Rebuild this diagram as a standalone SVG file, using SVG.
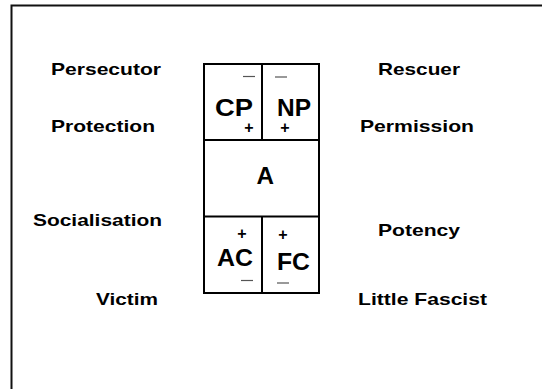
<svg xmlns="http://www.w3.org/2000/svg" width="542" height="389" viewBox="0 0 542 389">
<style>
.lbl{font-family:"Liberation Sans",Arial,sans-serif;font-weight:bold;font-size:17px;fill:#000}
.big{font-family:"Liberation Sans",Arial,sans-serif;font-weight:bold;font-size:23px;fill:#000}
.pl{font-family:"Liberation Sans",Arial,sans-serif;font-weight:bold;font-size:16px;fill:#000;text-anchor:middle}
.mn{stroke:#555;stroke-width:1.2}
.ln{fill:none;stroke:#000;stroke-width:2}
</style>
<rect width="542" height="389" fill="#fff"/>
<rect x="11.5" y="5.5" width="560" height="420" fill="none" stroke="#111" stroke-width="2"/>
<g id="labels">
<text class="lbl" x="51" y="75" textLength="110" lengthAdjust="spacingAndGlyphs">Persecutor</text>
<text class="lbl" x="51" y="132" textLength="104" lengthAdjust="spacingAndGlyphs">Protection</text>
<text class="lbl" x="33" y="226" textLength="129" lengthAdjust="spacingAndGlyphs">Socialisation</text>
<text class="lbl" x="96" y="305" textLength="62" lengthAdjust="spacingAndGlyphs">Victim</text>
<text class="lbl" x="378" y="75" textLength="82" lengthAdjust="spacingAndGlyphs">Rescuer</text>
<text class="lbl" x="360" y="132" textLength="114" lengthAdjust="spacingAndGlyphs">Permission</text>
<text class="lbl" x="378" y="236" textLength="82" lengthAdjust="spacingAndGlyphs">Potency</text>
<text class="lbl" x="358" y="305" textLength="129" lengthAdjust="spacingAndGlyphs">Little Fascist</text>
</g>
<g id="box">
<rect class="ln" x="204" y="64" width="115" height="229"/>
<line class="ln" x1="204" y1="140" x2="319" y2="140"/>
<line class="ln" x1="204" y1="216.5" x2="319" y2="216.5"/>
<line class="ln" x1="262" y1="64" x2="262" y2="140"/>
<line class="ln" x1="262" y1="216.5" x2="262" y2="293"/>
</g>
<g id="CP">
<text class="big" x="215" y="116" textLength="38" lengthAdjust="spacingAndGlyphs">CP</text>
<line class="mn" x1="243" y1="76.5" x2="255" y2="76.5"/>
<text class="pl" x="249" y="133">+</text>
</g>
<g id="NP">
<text class="big" x="277" y="116" textLength="34" lengthAdjust="spacingAndGlyphs">NP</text>
<line class="mn" x1="275" y1="77" x2="287" y2="77"/>
<text class="pl" x="285" y="133">+</text>
</g>
<g id="A">
<text class="big" x="256.5" y="184" textLength="17.5" lengthAdjust="spacingAndGlyphs" style="font-size:24px">A</text>
</g>
<g id="AC">
<text class="big" x="217" y="266" textLength="36" lengthAdjust="spacingAndGlyphs">AC</text>
<text class="pl" x="242" y="239">+</text>
<line class="mn" x1="241" y1="280.5" x2="253" y2="280.5"/>
</g>
<g id="FC">
<text class="big" x="277" y="270" textLength="33" lengthAdjust="spacingAndGlyphs">FC</text>
<text class="pl" x="283" y="240">+</text>
<line class="mn" x1="277" y1="283" x2="289" y2="283"/>
</g>
</svg>
